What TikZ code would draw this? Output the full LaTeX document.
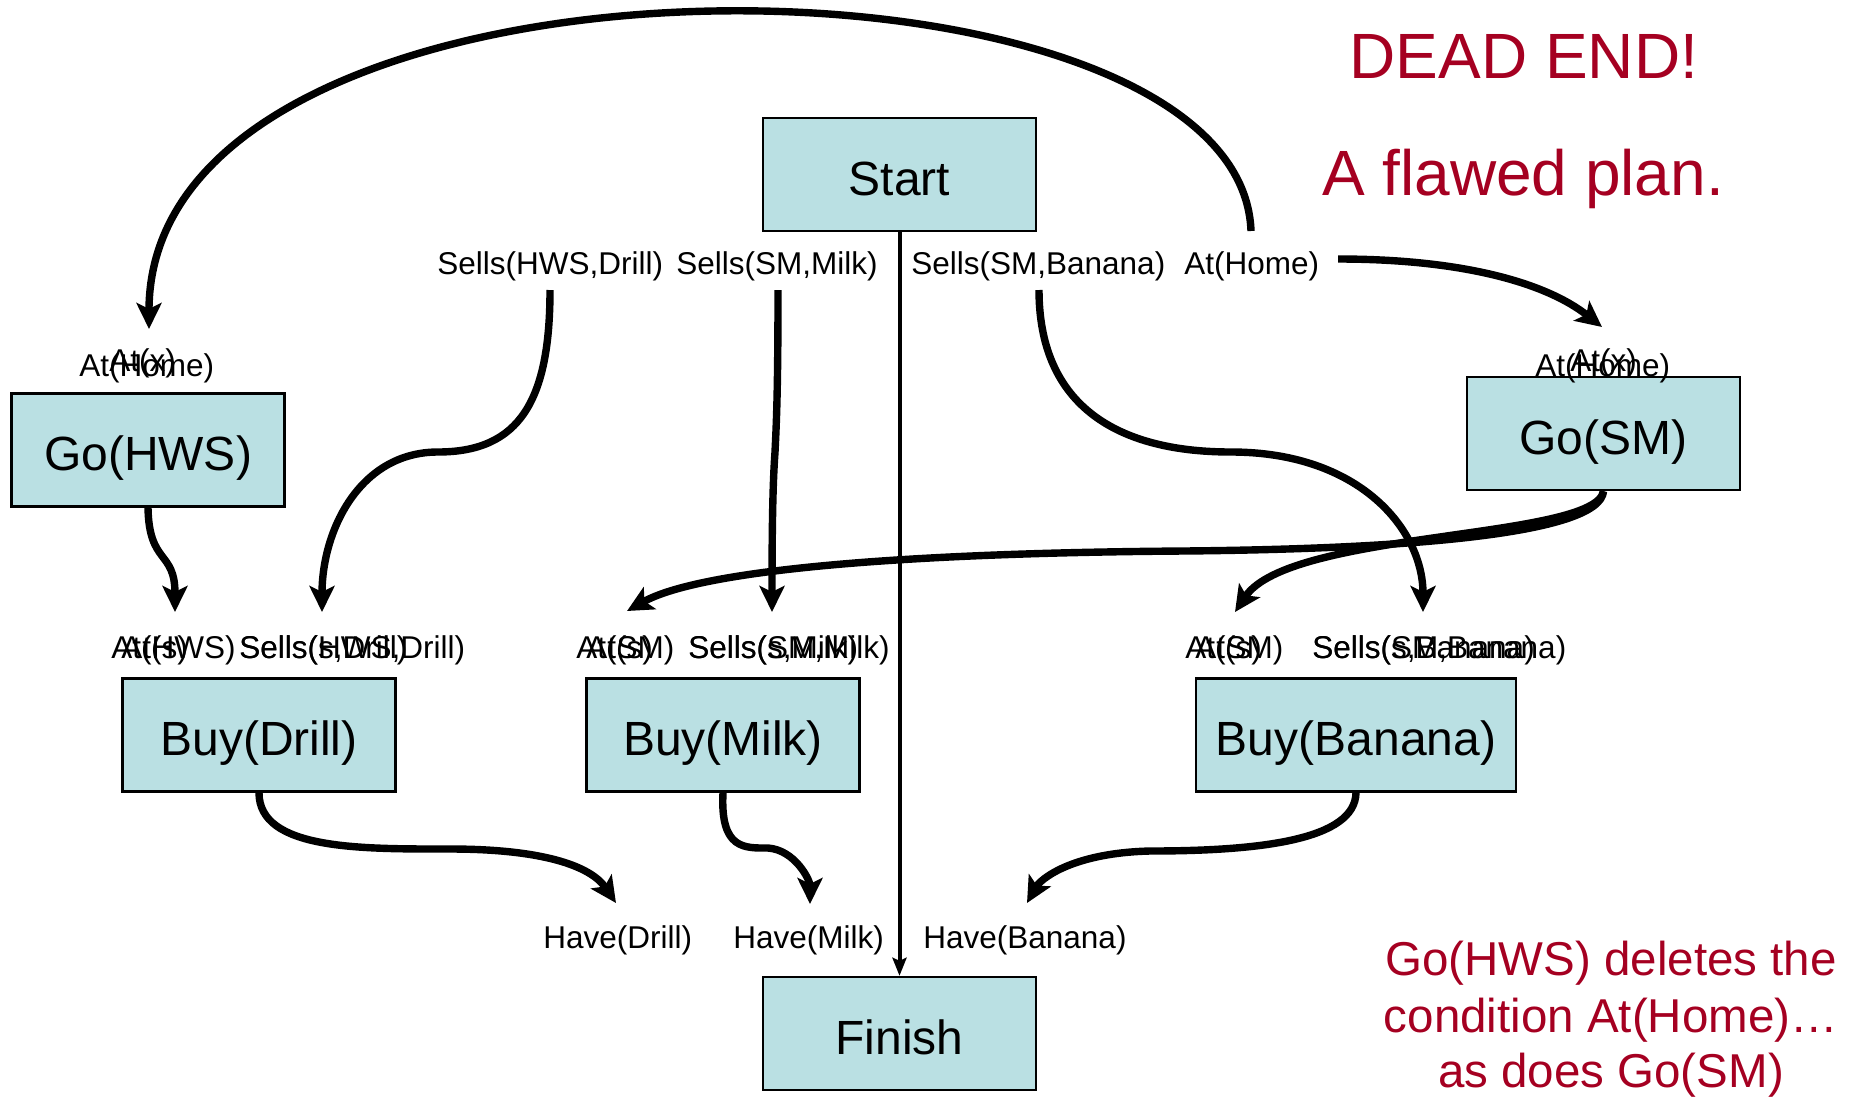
\documentclass[tikz,border=0pt]{standalone}
\usepackage{fontspec}
\setmainfont{Liberation Sans}
\usetikzlibrary{arrows.meta}
\definecolor{boxfill}{RGB}{186,224,227}
\definecolor{alertred}{RGB}{165,0,33}

\begin{document}
\begin{tikzpicture}[x=0.5pt,y=-0.5pt,
  act/.style={draw=black, line width=1.2pt, fill=boxfill, minimum width=136.5pt,
    minimum height=56.5pt, inner sep=0pt, text height=20.6pt, text depth=0pt,
    font=\fontsize{24}{28}\selectfont},
  cond/.style={inner sep=0pt, anchor=base west, font=\fontsize{15.75}{18}\selectfont},
  link/.style={line width=3.7pt, -{Stealth[length=13pt,width=12.5pt,inset=3pt]}},
  thinlink/.style={line width=2pt, -{Stealth[length=9pt,width=7pt,inset=1.5pt]}},
  alert/.style={text=alertred, inner sep=0pt, anchor=base}]

\useasboundingbox (0,0) rectangle (1856,1098);

% actions
\node[act] (start)  at (899.5,174.5) {Start};
\node[act] (gohws)  at (148,450)     {Go(HWS)};
\node[act] (gosm)   at (1603.5,433.5){Go(SM)};
\node[act] (buyd)   at (259,735)     {Buy(Drill)};
\node[act] (buym)   at (723,735)     {Buy(Milk)};
\node[act, minimum width=160pt] (buyb) at (1356,735) {Buy(Banana)};
\node[act] (finish) at (899.5,1033.5){Finish};

% effects of Start
\node[cond] (eSellsD) at (437,274)  {Sells(HWS,Drill)};
\node[cond] (eSellsM) at (676,274)  {Sells(SM,Milk)};
\node[cond] (eSellsB) at (911,274)  {Sells(SM,Banana)};
\node[cond] (eHome)   at (1184,274) {At(Home)};

% preconditions of the Go actions
\node[cond] (pHwsHome) at (79,376)   {At(Home)};
\node[cond] (pHwsX)    at (109,371)  {At(x)};
\node[cond] (pSmHome)  at (1535,376) {At(Home)};
\node[cond] (pSmX)     at (1570,371) {At(x)};

% preconditions of the Buy actions
\node[cond] (pDAt)     at (111,658)  {At(HWS)};
\node[cond] (pDAtS)    at (121,658)  {At(s)};
\node[cond] (pDSells)  at (239,658)  {Sells(HWS,Drill)};
\node[cond] (pDSellsS) at (239,658)  {Sells(s,Drill)};
\node[cond] (pMAt)     at (576,658)  {At(SM)};
\node[cond] (pMAtS)    at (586,658)  {At(s)};
\node[cond] (pMSells)  at (688,658)  {Sells(SM,Milk)};
\node[cond] (pMSellsS) at (688,658)  {Sells(s,Milk)};
\node[cond] (pBAt)     at (1185,658) {At(SM)};
\node[cond] (pBAtS)    at (1195,658) {At(s)};
\node[cond] (pBSells)  at (1312,658) {Sells(SM,Banana)};
\node[cond] (pBSellsS) at (1312,658) {Sells(s,Banana)};

% preconditions of Finish
\node[cond] (fD) at (543,948) {Have(Drill)};
\node[cond] (fM) at (733,948) {Have(Milk)};
\node[cond] (fB) at (923,948) {Have(Banana)};

% remarks
\node[alert, font=\fontsize{32}{38}\selectfont] (dead) at (1524,78) {DEAD END!};
\node[alert, font=\fontsize{32}{38}\selectfont] (flaw) at (1523,195) {A flawed plan.};
\node[alert, font=\fontsize{23.75}{28}\selectfont] (noteA) at (1611,975) {Go(HWS) deletes the};
\node[alert, font=\fontsize{23.75}{28}\selectfont] (noteB) at (1611,1032) {condition At(Home)…};
\node[alert, font=\fontsize{23.75}{28}\selectfont] (noteC) at (1611,1087) {as does Go(SM)};

% connector end points
\coordinate (arcStart)  at (1251,231);
\coordinate (homeRight) at (1338,259);
\coordinate (hwsXTip)   at (149,329);
\coordinate (smXTip)    at (1602,327);
\coordinate (sdTop)     at (550,290);
\coordinate (smTop)     at (778,290);
\coordinate (sbTop)     at (1039,290);
\coordinate (dAtTip)    at (175,612);
\coordinate (dSellsTip) at (322,612);
\coordinate (mAtTip)    at (627,611);
\coordinate (mSellsTip) at (772,612);
\coordinate (bAtTip)    at (1235,612);
\coordinate (bSellsTip) at (1423,612);
\coordinate (hDTip)     at (616,903);
\coordinate (hMTip)     at (810,904);
\coordinate (hBTip)     at (1027,903);

% causal links
\draw[link] (arcStart) .. controls (1240,-70) and (149,-80) .. (hwsXTip);
\draw[link] (homeRight) .. controls (1460,259) and (1545,282) .. (smXTip);
\draw[link] (sdTop) .. controls (550,400) and (520,452) .. (438,452)
                    .. controls (360,452) and (322,530) .. (dSellsTip);
\draw[link] (smTop) .. controls (778,400) and (776,430) .. (775,452)
                    .. controls (773,480) and (772,520) .. (mSellsTip);
\draw[link] (sbTop) .. controls (1039,400) and (1110,452) .. (1231,452)
                    .. controls (1360,452) and (1423,530) .. (bSellsTip);
\draw[link] (gohws.south) .. controls (149,565) and (175,550) .. (dAtTip);
\draw[link] (gosm.south) .. controls (1600,535) and (1400,549) .. (1184,551)
                         .. controls (900,553) and (700,570) .. (mAtTip);
\draw[link] (gosm.south) .. controls (1595,540) and (1290,530) .. (bAtTip);
\draw[link] (buyd.south) .. controls (259,850) and (360,849) .. (450,849)
                         .. controls (540,849) and (590,865) .. (hDTip);
\draw[link] (buym.south) .. controls (720,850) and (745,848) .. (768,848)
                         .. controls (795,850) and (810,880) .. (hMTip);
\draw[link] (buyb.south) .. controls (1355,840) and (1260,851) .. (1150,851)
                         .. controls (1070,853) and (1040,880) .. (hBTip);
\draw[thinlink] (start.south) -- (finish.north);
\end{tikzpicture}
\end{document}
